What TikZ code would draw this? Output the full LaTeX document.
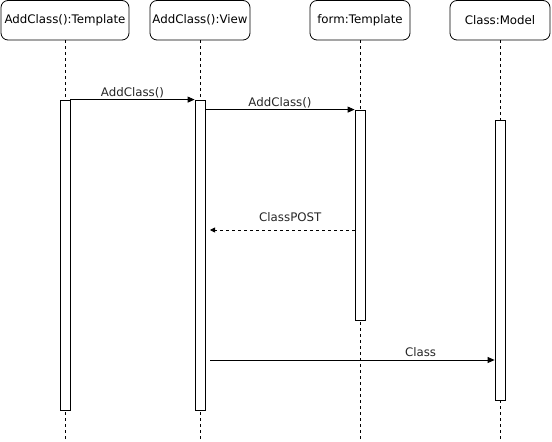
\documentclass[tikz,border=0pt]{standalone}
\usepackage{fontspec}
\setmainfont{DejaVu Sans}
\usetikzlibrary{arrows.meta,calc}
\begin{document}
\begin{tikzpicture}[x=1pt,y=-1pt,
  head/.style={draw, rounded corners=7pt, line width=0.8pt, inner sep=0pt,
    minimum height=39.5pt, font=\fontsize{11.8}{13}\selectfont},
  bar/.style={draw, fill=white, line width=0.8pt, inner sep=0pt, minimum width=10pt},
  life/.style={line width=0.8pt, dash pattern=on 3pt off 3pt},
  msg/.style={line width=0.8pt, -{Triangle[length=7pt,width=6pt]}},
  ret/.style={line width=0.8pt, dash pattern=on 3pt off 3pt, -{Triangle[length=5pt,width=5pt]}},
  lbl/.style={font=\fontsize{11.8}{13}\selectfont, text=black!85, inner sep=1pt}]
\useasboundingbox (0,0) rectangle (552,442);
% heads
\node[head, minimum width=128pt] (h1) at (65,20.25) {AddClass():Template};
\node[head, minimum width=100pt] (h2) at (200,20.25) {AddClass():View};
\node[head, minimum width=100pt] (h3) at (360,20.25) {form:Template};
\node[head, minimum width=100pt] (h4) at (500,20.25) {Class:Model};
% lifeline ends
\coordinate (e1) at (65,442);
\coordinate (e2) at (200,442);
\coordinate (e3) at (360,442);
\coordinate (e4) at (500,442);
\draw[life] (h1.south) -- (e1);
\draw[life] (h2.south) -- (e2);
\draw[life] (h3.south) -- (e3);
\draw[life] (h4.south) -- (e4);
% activation bars
\node[bar, minimum height=310pt] (b1) at (65,255) {};
\node[bar, minimum height=310pt] (b2) at (200,255) {};
\node[bar, minimum height=210pt] (b3) at (360,215) {};
\node[bar, minimum height=280pt] (b4) at (500,260) {};
% messages
\draw[msg] (b1.north east) -- node[lbl, above] {AddClass()} (b2.north west);
\draw[msg] (b2.east |- b3.north) -- node[lbl, above] {AddClass()} (b3.north west);
\coordinate (r1) at (210,230);
\draw[ret] (b3.west |- r1) -- node[lbl, above=7pt, xshift=8pt] {ClassPOST} (r1);
\coordinate (c1) at (210,360);
\draw[msg] (c1) -- node[lbl, above=1.5pt, pos=0.74] {Class} (b4.west |- c1);
\end{tikzpicture}
\end{document}
